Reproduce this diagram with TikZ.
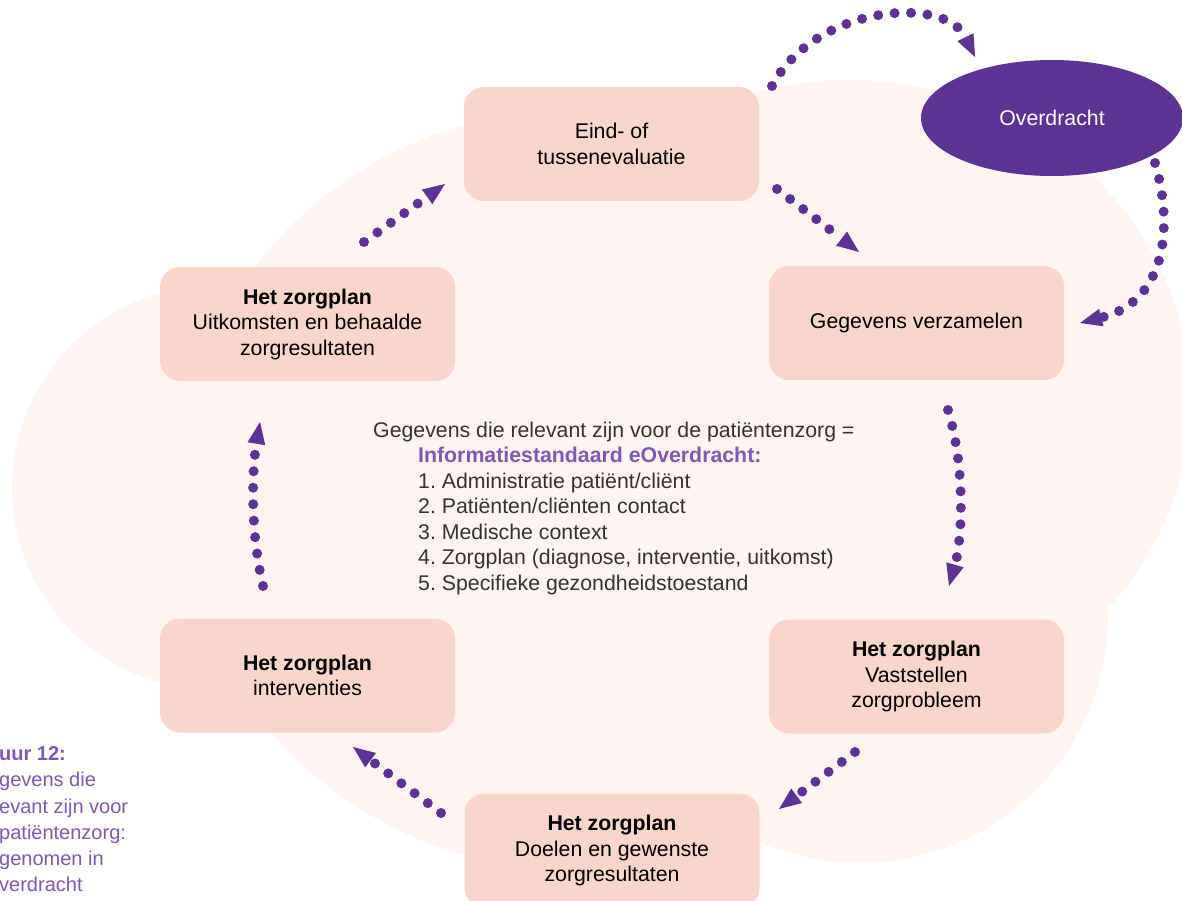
\documentclass[tikz,border=0pt]{standalone}
\usepackage{fontspec}
\setmainfont{Liberation Sans}
\usetikzlibrary{arrows.meta,shapes.geometric}
\definecolor{purp}{RGB}{92,50,147}
\definecolor{boxfill}{RGB}{248,214,204}
\definecolor{blob}{RGB}{254,245,243}
\definecolor{infopurp}{RGB}{127,87,181}
\definecolor{txtgray}{RGB}{51,51,51}
\begin{document}
\frenchspacing
\begin{tikzpicture}[x=1pt,y=-1pt,
  stage/.style={draw=none, fill=boxfill, rounded corners=20pt, minimum width=295pt, minimum height=114pt, inner sep=0pt, align=center, font=\fontsize{21.3}{25.5}\selectfont, text=black},
  dotarrow/.style={draw=purp, line width=10pt, line cap=round, dash pattern=on 0pt off 16.5pt, -{Triangle[length=22pt,width=18pt,line width=0pt]}},
  blobfill/.style={fill=blob, draw=none},
]
\useasboundingbox (0,0) rectangle (1182,901);
\clip (0,0) rectangle (1182,901);
\fill[white] (0,0) rectangle (1182,901);

% background cloud
\fill[blobfill] (214,488) circle [radius=202];
\fill[blobfill] (575,490) ellipse [x radius=395, y radius=380];
\fill[blobfill] (850,400) ellipse [x radius=340, y radius=320];
\fill[blobfill] (860,615) circle [radius=248];

% stages
\node[stage] (eind) at (611.5,144) {Eind- of\\tussenevaluatie};
\node[stage] (uitk) at (307.5,324) {\textbf{Het zorgplan}\\Uitkomsten en behaalde\\zorgresultaten};
\node[stage] (geg) at (916.5,323) {Gegevens verzamelen};
\node[stage] (interv) at (307.5,675.5) {\textbf{Het zorgplan}\\interventies};
\node[stage] (vast) at (916.5,676.5) {\textbf{Het zorgplan}\\Vaststellen\\zorgprobleem};
\node[stage] (doel) at (612,850.5) {\textbf{Het zorgplan}\\Doelen en gewenste\\zorgresultaten};
\node[ellipse, fill=purp, minimum width=262pt, minimum height=116pt, inner sep=0pt, text=white, font=\fontsize{21.3}{25.5}\selectfont] (overd) at (1052,118) {Overdracht};

% connector end points
\coordinate (a1s) at (772,86);   \coordinate (a1e) at (975,57);
\coordinate (a2s) at (1155,163); \coordinate (a2e) at (1080,323);
\coordinate (a3s) at (777,189);  \coordinate (a3e) at (859,252);
\coordinate (a4s) at (948,410);  \coordinate (a4e) at (949,586);
\coordinate (a5s) at (855,752);  \coordinate (a5e) at (779,809);
\coordinate (a6s) at (441,813);  \coordinate (a6e) at (353,747);
\coordinate (a7s) at (263,586);  \coordinate (a7e) at (260,422);
\coordinate (a8s) at (364,242);  \coordinate (a8e) at (445,184);

\draw[dotarrow] (a1s) .. controls (815,5) and (945,-5) .. (a1e);
\draw[dotarrow] (a2s) .. controls (1172,220) and (1170,300) .. (a2e);
\draw[dotarrow] (a3s) -- (a3e);
\draw[dotarrow] (a4s) .. controls (966,470) and (962,540) .. (a4e);
\draw[dotarrow] (a5s) -- (a5e);
\draw[dotarrow] (a6s) -- (a6e);
\draw[dotarrow] (a7s) .. controls (250,530) and (252,470) .. (a7e);
\draw[dotarrow] (a8s) -- (a8e);

% central text
\node[anchor=north west, align=left, inner sep=0pt, text=txtgray, font=\fontsize{21.3}{25.5}\selectfont] (info) at (373,421.5)
{Gegevens die relevant zijn voor de patiëntenzorg =\\
\hspace*{45pt}\textcolor{infopurp}{\textbf{Informatiestandaard eOverdracht:}}\\
\hspace*{45pt}1. Administratie patiënt/cliënt\\
\hspace*{45pt}2. Patiënten/cliënten contact\\
\hspace*{45pt}3. Medische context\\
\hspace*{45pt}4. Zorgplan (diagnose, interventie, uitkomst)\\
\hspace*{45pt}5. Specifieke gezondheidstoestand};

% caption (cut off at the left edge)
\node[anchor=north west, align=left, inner sep=0pt, text=infopurp, font=\fontsize{20}{26.2}\selectfont] (cap) at (-1,746.5)
{\textbf{uur 12:}\\gevens die\\evant zijn voor\\patiëntenzorg:\\genomen in\\verdracht};
\end{tikzpicture}
\end{document}
